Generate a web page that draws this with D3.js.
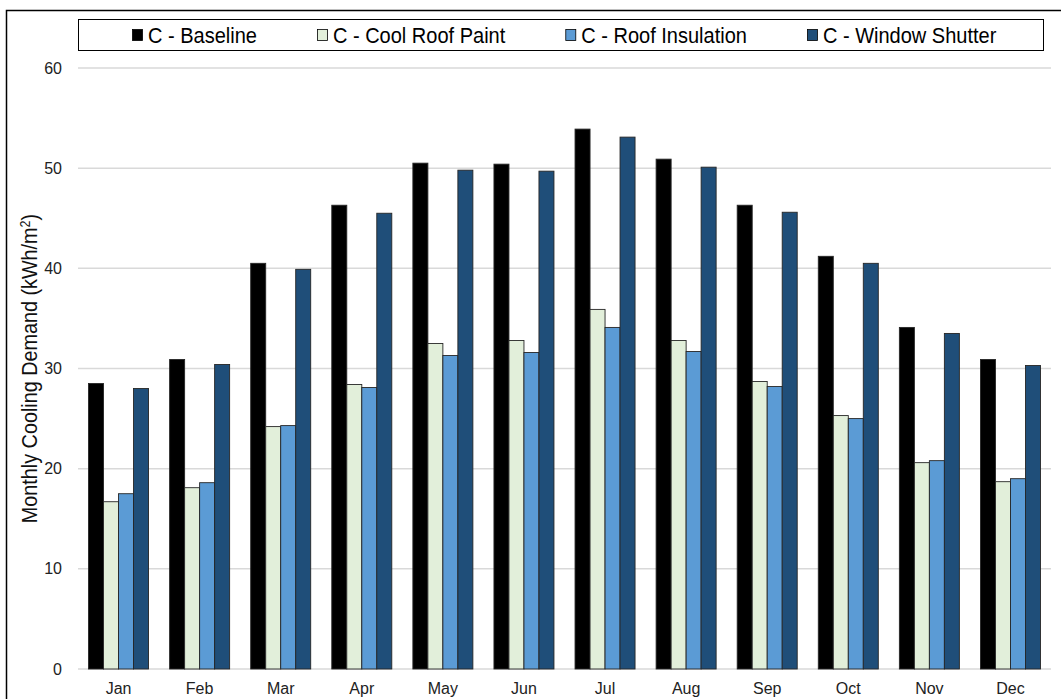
<!DOCTYPE html>
<html>
<head>
<meta charset="utf-8">
<script src="https://cdn.jsdelivr.net/npm/d3@7"></script>
<style>
  html, body { margin: 0; padding: 0; background: #fff; }
  svg { display: block; font-family: "Liberation Sans", Arial, sans-serif; }
</style>
</head>
<body>
<svg id="chart" width="1061" height="699"></svg>
<script>
// Monthly cooling demand (kWh/m²) per retrofit scenario
const months = ["Jan", "Feb", "Mar", "Apr", "May", "Jun", "Jul", "Aug", "Sep", "Oct", "Nov", "Dec"];
const seriesNames = ["C - Baseline", "C - Cool Roof Paint", "C - Roof Insulation", "C - Window Shutter"];
const baseline       = [28.5, 30.9, 40.5, 46.3, 50.5, 50.4, 53.9, 50.9, 46.3, 41.2, 34.1, 30.9];
const coolRoofPaint  = [16.7, 18.1, 24.2, 28.4, 32.5, 32.8, 35.9, 32.8, 28.7, 25.3, 20.6, 18.7];
const roofInsulation = [17.5, 18.6, 24.3, 28.1, 31.3, 31.6, 34.1, 31.7, 28.2, 25.0, 20.8, 19.0];
const windowShutter  = [28.0, 30.4, 39.9, 45.5, 49.8, 49.7, 53.1, 50.1, 45.6, 40.5, 33.5, 30.3];
const yTicks = [0, 10, 20, 30, 40, 50, 60];
const colors = ["#000000", "#E2EFDA", "#5B9BD5", "#1F4E79"];

const seriesValues = [baseline, coolRoofPaint, roofInsulation, windowShutter];

const svg = d3.select("#chart");

// outer chart frame
svg.append("rect")
  .attr("x", 6.5).attr("y", 10.5)
  .attr("width", 1070).attr("height", 700)
  .attr("fill", "none").attr("stroke", "#000").attr("stroke-width", 1.5);

const plot = { left: 78, right: 1051, top: 68, bottom: 669 };

const x = d3.scaleBand().domain(months)
  .range([plot.left, plot.right])
  .paddingInner(0.26).paddingOuter(0.13);
const xs = d3.scaleBand().domain(d3.range(seriesNames.length))
  .range([0, x.bandwidth()]).padding(0);
const y = d3.scaleLinear().domain([0, 60]).range([plot.bottom, plot.top]);

// gridlines
svg.append("g").selectAll("line").data(yTicks).join("line")
  .attr("x1", plot.left).attr("x2", plot.right)
  .attr("y1", d => y(d)).attr("y2", d => y(d))
  .attr("stroke", "#D9D9D9").attr("stroke-width", 1.5);

// y tick labels
const yAxis = svg.append("g")
  .attr("transform", `translate(${plot.left - 16},0)`)
  .call(d3.axisLeft(y).tickValues(yTicks).tickSize(0).tickPadding(0));
yAxis.select(".domain").remove();
yAxis.selectAll("text")
  .attr("font-family", "Liberation Sans, Arial, sans-serif")
  .attr("font-size", 16).attr("fill", "#222");

// x tick labels
const xAxis = svg.append("g")
  .attr("transform", `translate(0,${plot.bottom})`)
  .call(d3.axisBottom(x).tickSize(0).tickPadding(14));
xAxis.select(".domain").remove();
xAxis.selectAll("text")
  .attr("font-family", "Liberation Sans, Arial, sans-serif")
  .attr("font-size", 16).attr("fill", "#222");

// bars
const rows = months.map((m, i) => ({ month: m, values: seriesValues.map(s => s[i]) }));
const groups = svg.append("g").selectAll("g").data(rows).join("g")
  .attr("transform", d => `translate(${x(d.month)},0)`);
groups.selectAll("rect").data(d => d.values.map((v, k) => ({ v, k }))).join("rect")
  .attr("x", d => xs(d.k))
  .attr("y", d => y(d.v))
  .attr("width", xs.bandwidth())
  .attr("height", d => y(0) - y(d.v))
  .attr("fill", d => colors[d.k])
  .attr("stroke", "#262626").attr("stroke-width", 0.9);

// y-axis title (slightly condensed lettering)
const title = svg.append("text")
  .attr("transform", `translate(37,${(plot.top + plot.bottom) / 2}) rotate(-90) scale(0.9,1)`)
  .attr("text-anchor", "middle")
  .attr("font-size", 22).attr("fill", "#111")
  .text("Monthly Cooling Demand (kWh/m");
title.append("tspan").attr("baseline-shift", "super").attr("font-size", 14).text("2");
title.append("tspan").text(")");

// legend
svg.append("rect")
  .attr("x", 78.5).attr("y", 19.5).attr("width", 965).attr("height", 31)
  .attr("fill", "#fff").attr("stroke", "#000").attr("stroke-width", 1);

const legend = svg.append("g");
const squeeze = 0.91;
let lx = 132;
seriesNames.forEach((name, k) => {
  const g = legend.append("g").attr("transform", `translate(${lx},0)`);
  g.append("rect").attr("x", 0.5).attr("y", 29.5).attr("width", 10).attr("height", 11)
    .attr("fill", colors[k]).attr("stroke", "#000").attr("stroke-width", 0.8);
  const t = g.append("text")
    .attr("transform", `translate(16,43) scale(${squeeze},1)`)
    .attr("font-size", 22).attr("fill", "#000").text(name);
  lx += 16 + t.node().getComputedTextLength() * squeeze + 60;
});
</script>
</body>
</html>
